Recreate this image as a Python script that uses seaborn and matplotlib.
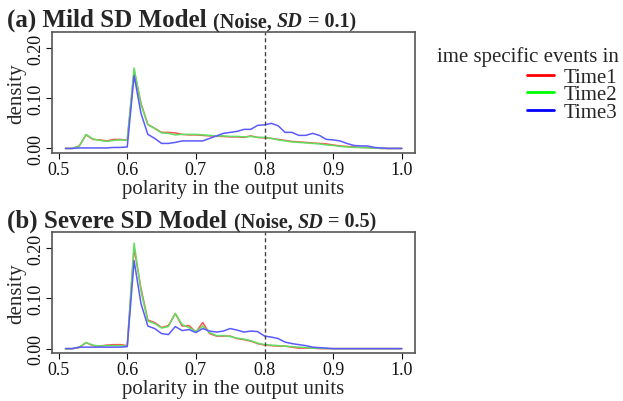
import pandas as pd
import seaborn as sns
import matplotlib.pyplot as plt
from matplotlib.lines import Line2D

# ============ Data ============
polarity = [round(0.51 + 0.01 * i, 2) for i in range(50)]

mild_time1 = [0, 0, 0.005, 0.027, 0.018, 0.017, 0.015, 0.018, 0.018, 0.016,
              0.155, 0.090, 0.048, 0.040, 0.032, 0.032, 0.031, 0.028, 0.027, 0.027,
              0.026, 0.025, 0.024, 0.024, 0.023, 0.023, 0.022, 0.025, 0.022, 0.021,
              0.020, 0.018, 0.016, 0.014, 0.013, 0.012, 0.011, 0.010, 0.009, 0.007,
              0.005, 0.004, 0.003, 0.002, 0.002, 0.001, 0, 0, 0, 0]
mild_time2 = [0, 0, 0.004, 0.028, 0.019, 0.016, 0.014, 0.016, 0.017, 0.016,
              0.160, 0.088, 0.047, 0.040, 0.031, 0.030, 0.027, 0.028, 0.028, 0.028,
              0.027, 0.026, 0.025, 0.025, 0.024, 0.024, 0.023, 0.024, 0.022, 0.022,
              0.020, 0.017, 0.015, 0.013, 0.012, 0.011, 0.010, 0.009, 0.007, 0.006,
              0.004, 0.003, 0.002, 0.002, 0.001, 0.001, 0, 0, 0, 0]
mild_time3 = [0, 0, 0.001, 0.001, 0.001, 0.001, 0.001, 0.002, 0.002, 0.003,
              0.145, 0.070, 0.028, 0.020, 0.010, 0.010, 0.012, 0.015, 0.015, 0.015,
              0.015, 0.020, 0.025, 0.030, 0.032, 0.034, 0.038, 0.038, 0.046, 0.047,
              0.050, 0.045, 0.032, 0.032, 0.026, 0.026, 0.030, 0.026, 0.018, 0.017,
              0.015, 0.010, 0.006, 0.005, 0.005, 0.002, 0.001, 0, 0, 0]

severe_time1 = [0, 0, 0.002, 0.012, 0.006, 0.005, 0.007, 0.008, 0.008, 0.006,
                0.200, 0.120, 0.057, 0.052, 0.042, 0.046, 0.070, 0.045, 0.046, 0.033,
                0.052, 0.030, 0.025, 0.025, 0.025, 0.020, 0.018, 0.015, 0.010, 0.007,
                0.006, 0.005, 0.005, 0.003, 0.001, 0.001, 0.001, 0, 0, 0,
                0, 0, 0, 0, 0, 0, 0, 0, 0, 0]
severe_time2 = [0, 0, 0.003, 0.012, 0.007, 0.005, 0.006, 0.006, 0.006, 0.005,
                0.210, 0.115, 0.055, 0.050, 0.041, 0.044, 0.070, 0.048, 0.042, 0.034,
                0.045, 0.032, 0.026, 0.026, 0.024, 0.021, 0.019, 0.016, 0.011, 0.008,
                0.007, 0.006, 0.005, 0.004, 0.003, 0.002, 0.001, 0.001, 0, 0,
                0, 0, 0, 0, 0, 0, 0, 0, 0, 0]
severe_time3 = [0, 0, 0.003, 0.003, 0.003, 0.003, 0.003, 0.003, 0.003, 0.004,
                0.175, 0.090, 0.045, 0.040, 0.030, 0.028, 0.044, 0.036, 0.038, 0.032,
                0.040, 0.035, 0.033, 0.035, 0.040, 0.037, 0.033, 0.035, 0.034, 0.025,
                0.023, 0.020, 0.013, 0.010, 0.008, 0.006, 0.003, 0.002, 0.001, 0,
                0, 0, 0, 0, 0, 0, 0, 0, 0, 0]

times = ['Time1', 'Time2', 'Time3']
line_colors = ['#ff5050', '#60e060', '#5a5aff']
legend_colors = ['#ff0000', '#00ff00', '#0000ff']


def long_frame(series):
    rows = []
    for name, vals in zip(times, series):
        rows += [{'polarity': p, 'density': v, 'time': name} for p, v in zip(polarity, vals)]
    return pd.DataFrame(rows)


panels = [
    ('(a) Mild SD Model', '0.1', long_frame([mild_time1, mild_time2, mild_time3])),
    ('(b) Severe SD Model', '0.5', long_frame([severe_time1, severe_time2, severe_time3])),
]

# ============ font style ============
sns.set_style('ticks')
plt.rcParams['font.family'] = ['Liberation Serif', 'DejaVu Serif']

fig = plt.figure(figsize=(6.23, 4.02), dpi=100)
axes_pos = [[0.0835, 0.617, 0.583, 0.301], [0.0835, 0.119, 0.583, 0.301]]

for (title, sd, df), pos in zip(panels, axes_pos):
    ax = fig.add_axes(pos)
    sns.lineplot(data=df, x='polarity', y='density', hue='time',
                 palette=line_colors, linewidth=1.1, legend=False, ax=ax)
    ax.axvline(0.8, color='#444444', linestyle=(0, (3, 2)), linewidth=1)
    ax.set_xlim(0.4904, 1.0196)
    ax.set_ylim(-0.009, 0.232)
    ax.set_xticks([0.5, 0.6, 0.7, 0.8, 0.9, 1.0])
    ax.set_xticklabels(['0.5', '0.6', '0.7', '0.8', '0.9', '1.0'], fontsize=13)
    ax.set_yticks([0.0, 0.1, 0.2])
    ax.set_yticklabels(['0.00', '0.10', '0.20'], fontsize=13, rotation=90, va='center')
    ax.tick_params(length=4, width=0.8, pad=1.5, colors='#111111')
    ax.set_xlabel('polarity in the output units', fontsize=15, labelpad=1)
    ax.set_ylabel('density', fontsize=15, labelpad=1)
    for s in ax.spines.values():
        s.set_color('#555555')
        s.set_linewidth(1.2)

    # title in pieces: bold, bold small, bold-italic small
    ty = pos[1] + pos[3] + 0.015
    t1 = fig.text(0.012, ty, title + ' ', fontsize=18, fontweight='bold', va='baseline')
    a2 = ax.annotate('(Noise, ', xy=(1, 0), xycoords=t1, fontsize=14.5,
                     fontweight='bold', va='bottom', annotation_clip=False)
    a3 = ax.annotate('SD', xy=(1, 0), xycoords=a2, fontsize=14.5, fontweight='bold',
                     style='italic', va='bottom', annotation_clip=False)
    ax.annotate(' = ' + sd + ')', xy=(1, 0), xycoords=a3, fontsize=14.5,
                fontweight='bold', va='bottom', annotation_clip=False)

# legend: title as separate text, entries right-aligned below
fig.text(0.993, 0.858, 'ime specific events in', fontsize=15, ha='right', va='center')
handles = [Line2D([], [], color=c, linewidth=2) for c in legend_colors]
fig.legend(handles, times, loc='upper right', bbox_to_anchor=(0.995, 0.835),
           frameon=False, fontsize=15, labelspacing=-0.1, handlelength=1.3,
           handletextpad=0.5, borderaxespad=0, borderpad=0.1)

fig.savefig('out.png', dpi=100)
